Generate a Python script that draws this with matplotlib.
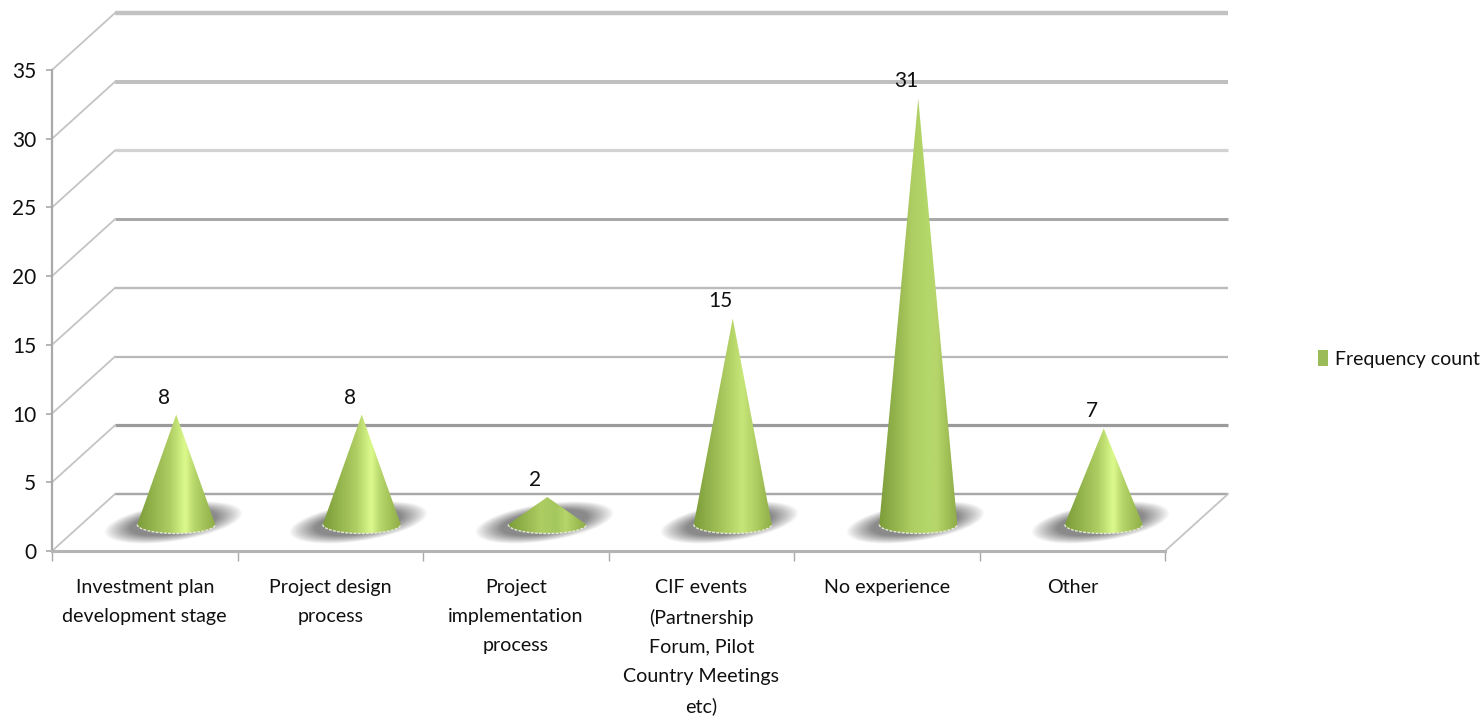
#!/usr/bin/env python3
# Frequency count per type of experience, drawn as 3D-looking cones on a floor.
import numpy as np
import matplotlib
matplotlib.use('Agg')
import matplotlib.pyplot as plt
from matplotlib.colors import LinearSegmentedColormap
from matplotlib.patches import Patch, PathPatch
from matplotlib.path import Path

categories = [
    'Investment plan\ndevelopment stage',
    'Project design\nprocess',
    'Project\nimplementation\nprocess',
    'CIF events\n(Partnership\nForum, Pilot\nCountry Meetings\netc)',
    'No experience',
    'Other',
]
frequency = [8, 8, 2, 15, 31, 7]
y_ticks = [0, 5, 10, 15, 20, 25, 30, 35]

W, H = 1482, 719
FONT = 'Lato'
FS = 14.1
FS_NUM = 15

# size of the box in pixels, converted to data units further down
LEFT, RIGHT, BOTTOM, TOP = 52, 1165, 551, 70
PX_X = 6 / (RIGHT - LEFT)
PX_Y = 35 / (BOTTOM - TOP)
DEPTH_X = 63 * PX_X
DEPTH_Y = 57 * PX_Y

fig = plt.figure(figsize=(W / 100, H / 100), dpi=100, facecolor='white')
ax = fig.add_axes([LEFT / W, 1 - BOTTOM / H, (RIGHT - LEFT) / W, (BOTTOM - TOP) / H])
ax.set_xlim(0, 6)
ax.set_ylim(0, 35)
ax.patch.set_visible(False)

# back wall lines, every one has its own weight and grey
wall_style = {
    0: (2.4, '#a8a8a8'), 5: (3.2, '#9a9a9a'), 10: (2.2, '#b8b8b8'),
    15: (2.4, '#bcbcbc'), 20: (3.0, '#a8a8a8'), 25: (3.2, '#d2d2d2'),
    30: (4.0, '#c0c0c0'), 35: (4.4, '#c2c2c2'),
}
for v in y_ticks:
    lw, col = wall_style[v]
    ax.plot([DEPTH_X, 6 + DEPTH_X], [v + DEPTH_Y, v + DEPTH_Y], color=col,
            lw=lw * 0.72, solid_capstyle='butt', clip_on=False, zorder=1)
    ax.plot([0, DEPTH_X], [v, v + DEPTH_Y], color='#c4c4c4', lw=1.3,
            clip_on=False, zorder=1)
ax.plot([6, 6 + DEPTH_X], [0, DEPTH_Y], color='#c4c4c4', lw=1.3, clip_on=False, zorder=1)

# axes
for side in ('top', 'right'):
    ax.spines[side].set_visible(False)
ax.spines['left'].set_color('#a9a9a9')
ax.spines['left'].set_linewidth(1.6)
ax.spines['bottom'].set_color('#b4b4b4')
ax.spines['bottom'].set_linewidth(2.2)
ax.set_yticks(y_ticks)
ax.set_xticks(range(7))
ax.set_xticklabels([])
ax.set_xticks(np.arange(6) + 0.5, categories, minor=True)
ax.tick_params(axis='y', length=4, width=1.2, color='#a9a9a9', pad=7.5,
               labelsize=FS_NUM, labelfontfamily=FONT, labelcolor='#101010')
ax.tick_params(axis='x', which='major', length=7, width=1.0, color='#a9a9a9')
ax.tick_params(axis='x', which='minor', length=0, pad=20, labelsize=FS,
               labelfontfamily=FONT, labelcolor='#101010')
for lab in ax.get_xticklabels(minor=True):
    lab.set_linespacing(1.86)

# soft shadow lying on the floor, rising towards the right
SH_RX, SH_RY = 1.2, 1.05
gx, gy = np.meshgrid(np.linspace(-SH_RX, SH_RX, 240), np.linspace(-SH_RY, SH_RY, 90))
shear = gx - 0.5 * gy
dist = np.sqrt(shear ** 2 + gy ** 2)
shadow = np.zeros(gx.shape + (4,))
shadow[..., :3] = 0.52
shadow[..., 3] = 0.95 * np.clip((1.0 - dist) / 0.38, 0, 1) ** 0.9

BASE_Y = 26.5 * PX_Y        # centre of the cone base above the front edge
BASE_RX = 39 * PX_X
BASE_RY = 9 * PX_Y
peaks = ['#dcfa8c', '#dcfa8c', '#a4c75e', '#c6e678', '#b4d86a', '#dcfa8c']

for i, val in enumerate(frequency):
    cx = i + 0.5 + DEPTH_X / 2
    sx, sy = 62 * PX_X * SH_RX, 21 * PX_Y * SH_RY
    sh_x, sh_y = cx - 3 * PX_X, 28 * PX_Y
    ax.imshow(shadow, extent=[sh_x - sx, sh_x + sx, sh_y - sy, sh_y + sy],
              origin='lower', aspect='auto', interpolation='bilinear',
              clip_on=False, zorder=2)

    apex = BASE_Y + val
    t = np.linspace(np.pi, 2 * np.pi, 60)
    ell_x = cx + BASE_RX * np.cos(t)
    ell_y = BASE_Y + BASE_RY * np.sin(t)
    verts = [(cx, apex)] + list(zip(ell_x, ell_y)) + [(cx, apex)]
    codes = [Path.MOVETO] + [Path.LINETO] * (len(verts) - 2) + [Path.CLOSEPOLY]
    outline = Path(verts, codes)

    cmap = LinearSegmentedColormap.from_list('cone', [
        (0.0, '#7c9c3a'), (0.22, '#95b54e'), (0.42, '#aecd62'),
        (0.62, peaks[i]), (0.74, '#b6d56a'), (0.88, '#a0bf56'), (1.0, '#8fae48'),
    ])
    ramp = np.linspace(0, 1, 256).reshape(1, -1)
    im = ax.imshow(ramp, cmap=cmap, extent=[cx - BASE_RX, cx + BASE_RX, 0, apex],
                   aspect='auto', interpolation='bilinear', zorder=3)
    clip = PathPatch(outline, transform=ax.transData, facecolor='none', edgecolor='none')
    ax.add_patch(clip)
    im.set_clip_path(clip)

    # pale dotted rim along the front of the base
    ax.plot(ell_x, ell_y, color='#e6e8da', lw=1.0, ls=(0, (2, 1)), zorder=4)

    ax.annotate(str(val), (cx, apex), xytext=(-12, 17), textcoords='offset pixels',
                ha='center', va='center', fontsize=FS_NUM, family=FONT, color='#101010',
                annotation_clip=False, zorder=5)

# imshow resets the limits
ax.set_xlim(0, 6)
ax.set_ylim(0, 35)

ax.legend(handles=[Patch(facecolor='#9bbb59', edgecolor='none', label='Frequency count')],
          loc='center left', bbox_to_anchor=(1318 / W, 1 - 359 / H),
          bbox_transform=fig.transFigure, frameon=False, borderpad=0, borderaxespad=0,
          handlelength=0.5, handleheight=0.85, handletextpad=0.36,
          prop={'family': FONT, 'size': 14}, labelcolor='#101010')

fig.savefig('out.png', dpi=100)
